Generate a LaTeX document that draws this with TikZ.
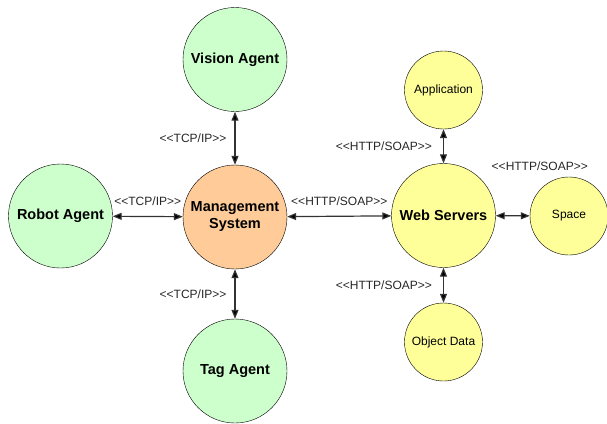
\documentclass[tikz,border=0pt]{standalone}
\usepackage{fontspec}
\setmainfont{Liberation Sans}[Ligatures=TeXOff]
\usetikzlibrary{arrows.meta}
\definecolor{agentgreen}{RGB}{204,255,204}
\definecolor{mgmtorange}{RGB}{255,204,153}
\definecolor{webyellow}{RGB}{255,255,153}
\begin{document}
\begin{tikzpicture}[x=1pt,y=-1pt,
  agent/.style={shape=circle,draw=black,fill=agentgreen,minimum size=104pt,inner sep=0pt,font=\fontsize{14.5}{17}\selectfont\bfseries,align=center},
  server/.style={shape=circle,draw=black,fill=webyellow,minimum size=104pt,inner sep=0pt,font=\fontsize{14.5}{17}\selectfont\bfseries},
  store/.style={shape=circle,draw=black,fill=webyellow,minimum size=78pt,inner sep=0pt,font=\fontsize{12}{14}\selectfont},
  proto/.style={font=\fontsize{12}{14}\selectfont,text=black!85,inner sep=1pt},
  link/.style={<->,>={Triangle[length=9pt,width=7pt]},line width=1.2pt,draw=black!80}]
  \useasboundingbox (0,0) rectangle (607,423);
  \node[agent] (vision) at (235,59.5) {Vision Agent};
  \node[agent] (robot) at (60.5,216) {Robot Agent};
  \node[agent,fill=mgmtorange] (mgmt) at (235,217) {Management\\System};
  \node[agent] (tag) at (235,371) {Tag Agent};
  \node[server] (web) at (443.5,215.5) {Web Servers};
  \node[store] (app) at (443.5,90) {Application};
  \node[store] (space) at (569,216) {Space};
  \node[store] (objdata) at (443.5,342) {Object Data};
  \path [link](vision) edge node[proto,left=7pt] {<<TCP/IP>>} (mgmt);
  \path [link](robot) edge node[proto,above=9pt] {<<TCP/IP>>} (mgmt);
  \path [link](mgmt) edge node[proto,left=7pt] {<<TCP/IP>>} (tag);
  \path [link](mgmt) edge node[proto,above=9pt] {<<HTTP/SOAP>>} (web);
  \path [link](app) edge node[proto,left=10pt] {<<HTTP/SOAP>>} (web);
  \path [link](web) edge node[proto,above=44pt,xshift=27pt] {<<HTTP/SOAP>>} (space);
  \path [link](web) edge node[proto,left=10pt] {<<HTTP/SOAP>>} (objdata);
\end{tikzpicture}
\end{document}
